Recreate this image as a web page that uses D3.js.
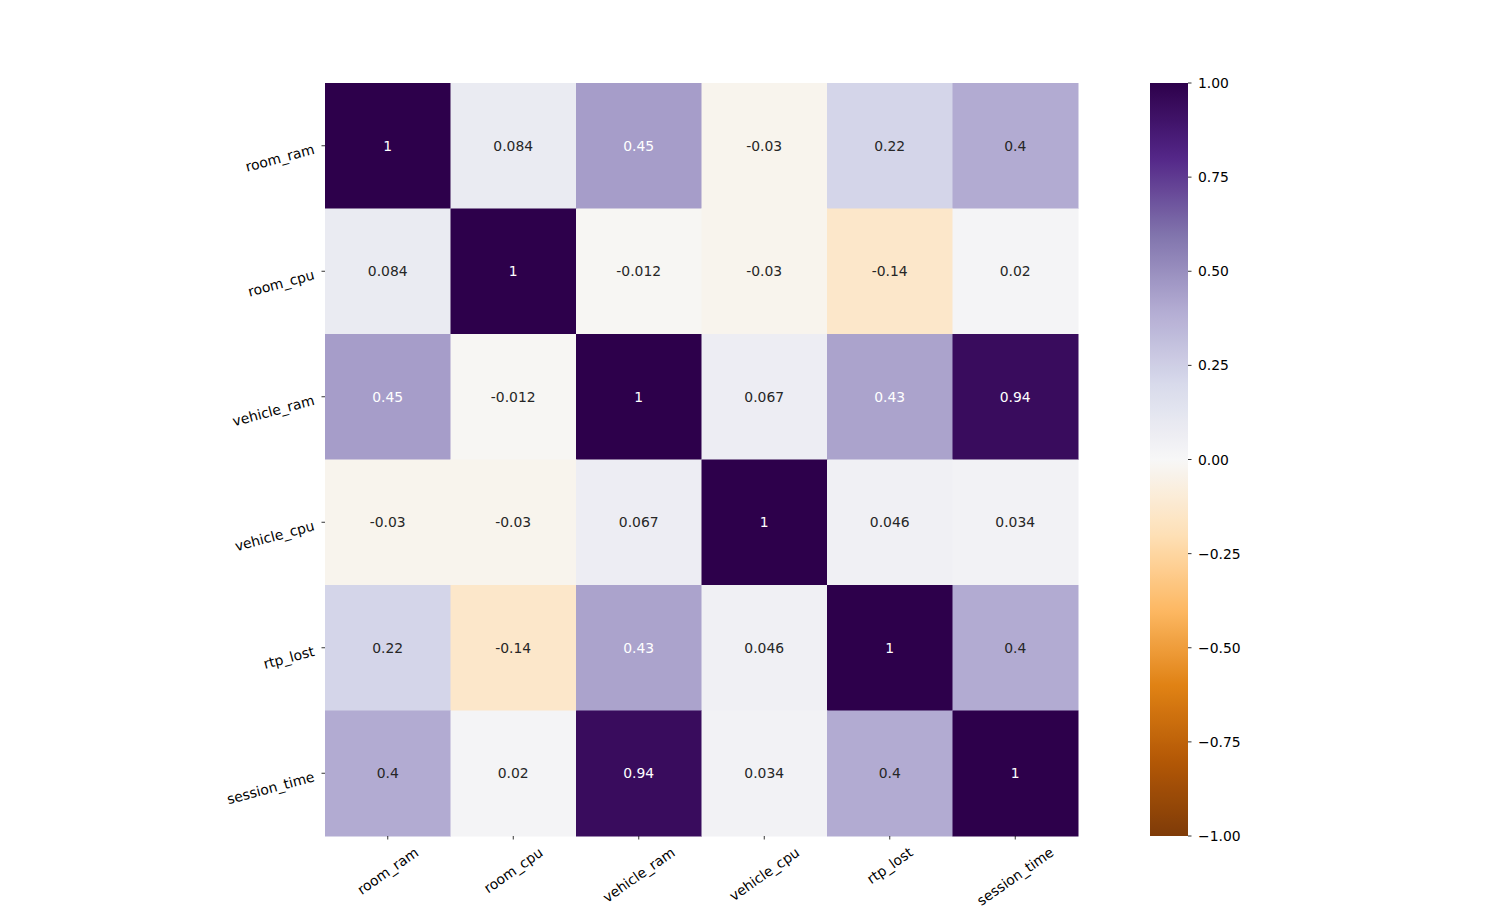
<!DOCTYPE html>
<html><head><meta charset="utf-8">
<script src="https://cdn.jsdelivr.net/npm/d3@7"></script>
<style>body{margin:0;background:#fff;} text{font-family:"DejaVu Sans",sans-serif;}</style>
</head><body>
<svg id="chart" width="1494" height="921"></svg>
<script>
const labels = ["room_ram","room_cpu","vehicle_ram","vehicle_cpu","rtp_lost","session_time"];
const row_room_ram     = [1, 0.084, 0.45, -0.03, 0.22, 0.4];
const row_room_cpu     = [0.084, 1, -0.012, -0.03, -0.14, 0.02];
const row_vehicle_ram  = [0.45, -0.012, 1, 0.067, 0.43, 0.94];
const row_vehicle_cpu  = [-0.03, -0.03, 0.067, 1, 0.046, 0.034];
const row_rtp_lost     = [0.22, -0.14, 0.43, 0.046, 1, 0.4];
const row_session_time = [0.4, 0.02, 0.94, 0.034, 0.4, 1];
const matrix = [row_room_ram,row_room_cpu,row_vehicle_ram,row_vehicle_cpu,row_rtp_lost,row_session_time];
const cbTicks = [1,0.75,0.5,0.25,0,-0.25,-0.5,-0.75,-1];
const puorColors = ["#7f3b08","#b35806","#e08214","#fdb863","#fee0b6","#f7f7f7","#d8daeb","#b2abd2","#8073ac","#542788","#2d004b"];

(function(){
const svg = d3.select("#chart");
const L=325, R=1078, T=83, B=836;
const FS=13.9;
const x = d3.scaleBand().domain(labels).range([L,R]);
const y = d3.scaleBand().domain(labels).range([T,B]);
const color = d3.scaleLinear().domain(d3.range(11).map(i=>-1+i*0.2)).range(puorColors).interpolate(d3.interpolateRgb).clamp(true);

const cells=[];
matrix.forEach((r,i)=>r.forEach((v,j)=>cells.push({row:labels[i],col:labels[j],v})));

function lum(c){const rgb=d3.rgb(c);const f=u=>{u/=255;return u<=0.03928?u/12.92:Math.pow((u+0.055)/1.055,2.4);};return 0.2126*f(rgb.r)+0.7152*f(rgb.g)+0.0722*f(rgb.b);}

svg.append("g").selectAll("rect").data(cells).join("rect")
  .attr("x",d=>x(d.col)).attr("y",d=>y(d.row))
  .attr("width",x.bandwidth()+0.5).attr("height",y.bandwidth()+0.5)
  .attr("fill",d=>color(d.v));
svg.append("g").selectAll("text").data(cells).join("text")
  .attr("x",d=>x(d.col)+x.bandwidth()/2).attr("y",d=>y(d.row)+y.bandwidth()/2)
  .attr("text-anchor","middle").attr("dominant-baseline","central")
  .attr("font-size",FS)
  .attr("fill",d=>lum(color(d.v))<0.408?"#ffffff":"#262626")
  .text(d=>String(d.v));

const yg=svg.append("g");
labels.forEach(l=>{
  const cy=y(l)+y.bandwidth()/2;
  yg.append("line").attr("x1",L-3.5).attr("x2",L).attr("y1",cy).attr("y2",cy).attr("stroke","#000").attr("stroke-width",0.8);
  yg.append("text").attr("transform",`translate(${L-11},${cy+3}) rotate(-15)`)
    .attr("text-anchor","end").attr("dominant-baseline","central").attr("font-size",FS).attr("fill","#000").text(l);
});
const xg=svg.append("g");
const a=35*Math.PI/180;
labels.forEach(l=>{
  const cx=x(l)+x.bandwidth()/2;
  xg.append("line").attr("x1",cx).attr("x2",cx).attr("y1",B).attr("y2",B+3.5).attr("stroke","#000").attr("stroke-width",0.8);
  const t=xg.append("text").attr("text-anchor","middle").attr("dominant-baseline","central").attr("font-size",FS).attr("fill","#000").text(l);
  const w=t.node().getComputedTextLength(), h=16;
  const H=w*Math.sin(a)+h*Math.cos(a);
  t.attr("transform",`translate(${cx},${B+3.5+4.5+H/2}) rotate(-35)`);
});

const cbx=1150, cbw=38;
const cy2=d3.scaleLinear().domain([-1,1]).range([B,T]);
const defs=svg.append("defs");
const grad=defs.append("linearGradient").attr("id","cbgrad").attr("x1",0).attr("y1",1).attr("x2",0).attr("y2",0);
d3.range(0,101).forEach(i=>{const v=-1+i*0.02;grad.append("stop").attr("offset",(i/100)).attr("stop-color",color(v));});
svg.append("rect").attr("x",cbx).attr("y",T).attr("width",cbw).attr("height",B-T).attr("fill","url(#cbgrad)");
const fmt=d3.format(".2f");
const cg=svg.append("g");
cbTicks.forEach(v=>{
  const ty=cy2(v);
  cg.append("line").attr("x1",cbx+cbw).attr("x2",cbx+cbw+3.5).attr("y1",ty).attr("y2",ty).attr("stroke","#000").attr("stroke-width",0.8);
  cg.append("text").attr("x",cbx+cbw+10).attr("y",ty).attr("dominant-baseline","central").attr("font-size",FS).attr("fill","#000").text(fmt(v));
});
})();
</script>
</body></html>
